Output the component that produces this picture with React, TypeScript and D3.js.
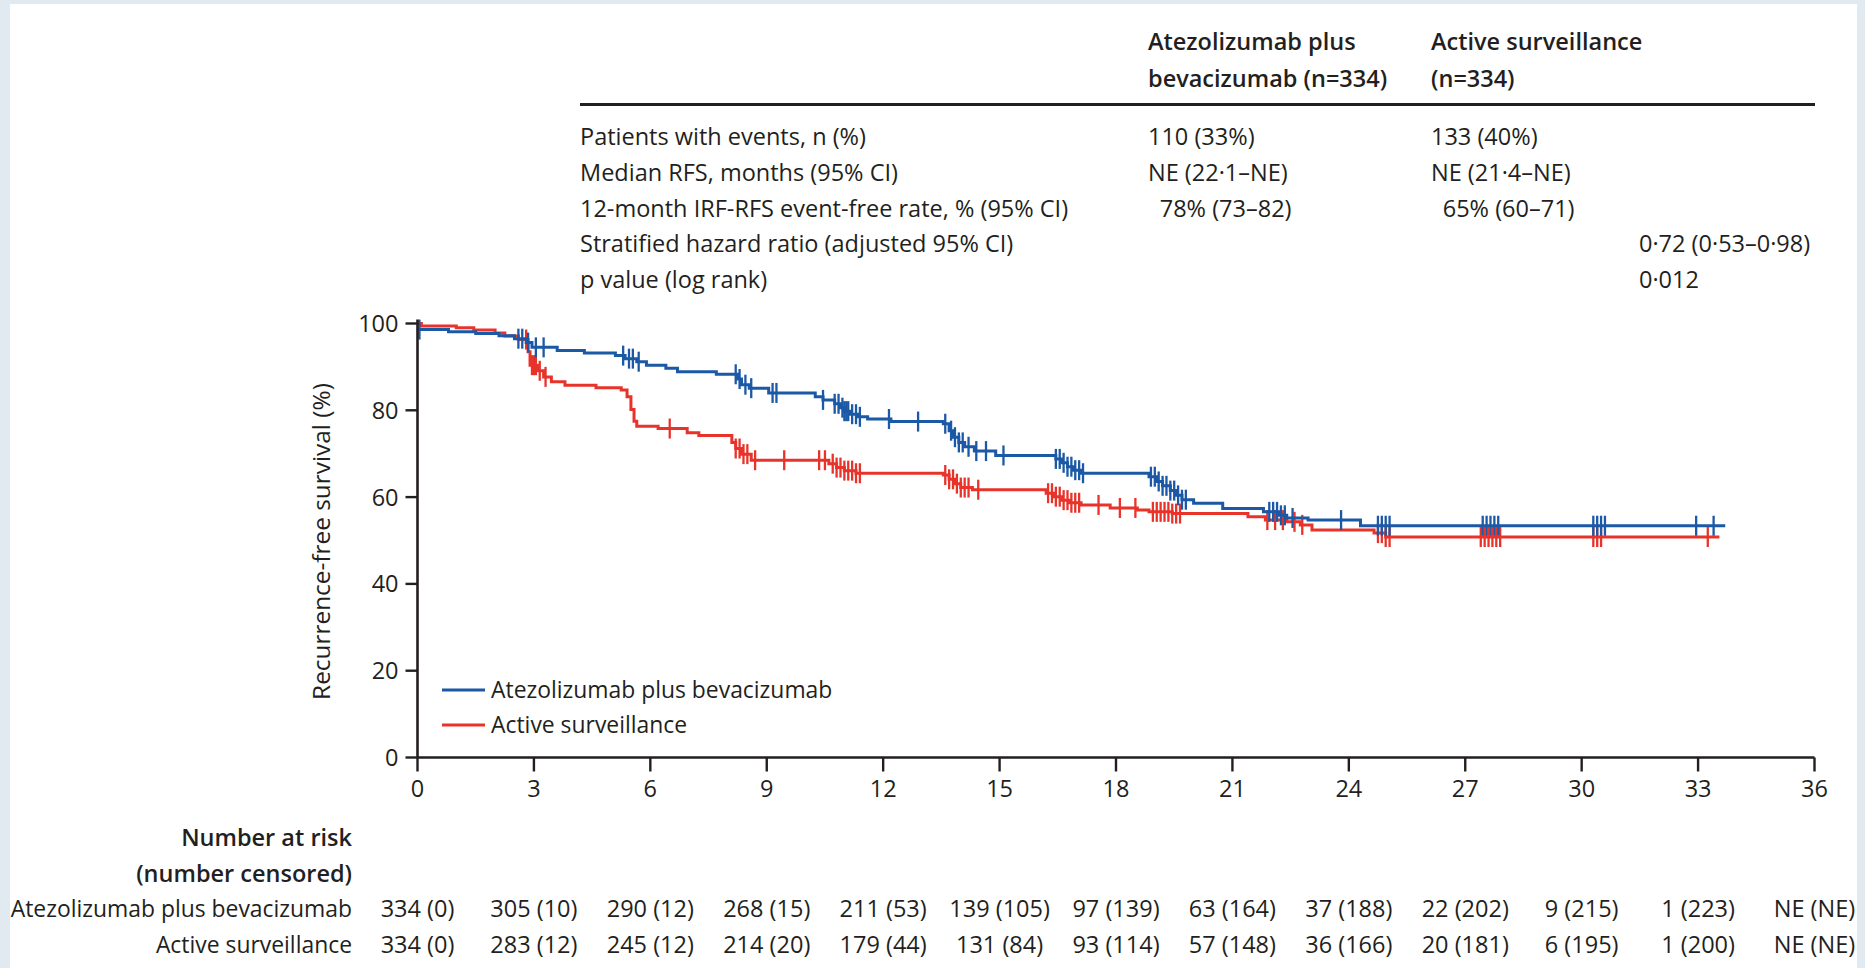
import React from "react";
import * as d3 from "d3";

// ---- data -------------------------------------------------------------
const MONTH_TICKS = [0, 3, 6, 9, 12, 15, 18, 21, 24, 27, 30, 33, 36];
const PCT_TICKS = [0, 20, 40, 60, 80, 100];

const SERIES_NAMES = ["Atezolizumab plus bevacizumab", "Active surveillance"];

// Kaplan–Meier steps: [month, survival % after that month]
const atezoSteps: [number, number][] = [
  [0, 98.6], [0.8, 98.1], [1.5, 97.7], [2.1, 97.2], [2.5, 96.5], [2.8, 95.6], [2.95, 94.5],
  [3.6, 93.8], [4.3, 93.2], [5.1, 92.6], [5.35, 91.9], [5.65, 91.2], [5.9, 90.4], [6.4, 89.7],
  [6.7, 88.9], [7.7, 88.3], [8.25, 87.2], [8.35, 85.9], [8.55, 85.1], [9.05, 84.0], [10.25, 83.1],
  [10.45, 82.4], [10.75, 81.5], [10.9, 80.6], [11.0, 79.8], [11.15, 79.1], [11.35, 78.5],
  [11.6, 78.0], [12.2, 77.4], [13.55, 76.9], [13.7, 75.3], [13.8, 73.8], [13.95, 72.6],
  [14.1, 71.6], [14.35, 70.6], [14.9, 69.6], [16.45, 68.8], [16.6, 67.9], [16.75, 67.0],
  [16.9, 66.2], [17.1, 65.5], [18.85, 64.7], [19.05, 63.6], [19.2, 62.6], [19.4, 61.5],
  [19.55, 60.4], [19.7, 59.4], [20.0, 58.6], [20.75, 57.4], [21.8, 56.6], [22.2, 55.8],
  [22.4, 55.2], [22.95, 54.7], [24.3, 53.4],
];
const atezoEnd = 33.7;
const atezoCensored = [
  0.05, 2.6, 2.7, 2.85, 3.05, 3.25, 5.3, 5.45, 5.55, 5.7, 8.2, 8.3, 8.45, 8.6, 9.15, 9.25,
  10.45, 10.75, 10.85, 10.95, 11.0, 11.05, 11.1, 11.2, 11.3, 11.4, 12.15, 12.9, 13.6, 13.75,
  13.85, 13.95, 14.05, 14.2, 14.4, 14.65, 15.1, 16.45, 16.55, 16.65, 16.75, 16.85, 16.95,
  17.05, 17.15, 18.9, 19.0, 19.1, 19.2, 19.3, 19.4, 19.5, 19.6, 19.7, 19.8, 21.95, 22.05,
  22.15, 22.25, 22.35, 22.55, 23.8, 24.75, 24.85, 24.95, 25.05, 27.45, 27.55, 27.65, 27.75,
  27.85, 30.3, 30.4, 30.5, 30.6, 32.95, 33.4,
];

const survSteps: [number, number][] = [
  [0, 100], [0.1, 99.4], [1.0, 99.0], [1.45, 98.5], [2.0, 97.8], [2.25, 97.1], [2.6, 96.3],
  [2.85, 93.5], [2.9, 90.4], [3.1, 89.1], [3.25, 87.7], [3.45, 86.6], [3.8, 85.8], [4.6, 85.2],
  [5.25, 84.7], [5.4, 83.1], [5.5, 80.2], [5.58, 77.5], [5.65, 76.3], [6.2, 75.8], [6.95, 74.8],
  [7.25, 74.2], [8.1, 72.6], [8.2, 71.2], [8.35, 69.9], [8.6, 68.5], [10.6, 67.7], [10.8, 66.8],
  [11.0, 66.1], [11.3, 65.5], [13.55, 65.1], [13.7, 64.1], [13.85, 63.1], [14.0, 62.2],
  [14.3, 61.7], [16.2, 60.9], [16.4, 60.1], [16.6, 59.3], [16.8, 58.7], [17.1, 58.2],
  [17.85, 57.5], [18.55, 57.0], [18.85, 56.6], [19.45, 56.2], [21.4, 55.5], [21.85, 54.7],
  [22.4, 54.3], [22.75, 53.6], [23.05, 52.4], [24.65, 51.7], [24.95, 50.8],
];
const survEnd = 33.55;
const survCensored = [
  2.8, 2.95, 3.0, 3.05, 3.15, 3.3, 6.5, 8.2, 8.3, 8.4, 8.5, 8.7, 9.45, 10.35, 10.5, 10.7,
  10.8, 10.9, 11.0, 11.1, 11.2, 11.3, 11.4, 13.6, 13.7, 13.8, 13.9, 14.0, 14.1, 14.2, 14.45,
  16.25, 16.35, 16.45, 16.55, 16.65, 16.75, 16.85, 16.95, 17.05, 17.55, 18.1, 18.5, 18.95,
  19.05, 19.15, 19.25, 19.35, 19.45, 19.55, 19.65, 21.9, 22.1, 22.3, 22.6, 22.8, 24.75, 24.85,
  24.95, 25.05, 27.4, 27.5, 27.6, 27.7, 27.8, 27.9, 30.3, 30.4, 30.5, 33.25,
];

// Summary table
const SUMMARY_HEADERS = [
  ["Atezolizumab plus", "bevacizumab (n=334)"],
  ["Active surveillance", "(n=334)"],
];
const SUMMARY_LABELS = [
  "Patients with events, n (%)",
  "Median RFS, months (95% CI)",
  "12-month IRF-RFS event-free rate, % (95% CI)",
  "Stratified hazard ratio (adjusted 95% CI)",
  "p value (log rank)",
];
const SUMMARY_ATEZO = ["110 (33%)", "NE (22·1–NE)", "\u200278% (73–82)", "", ""];
const SUMMARY_SURV = ["133 (40%)", "NE (21·4–NE)", "\u200265% (60–71)", "", ""];
const SUMMARY_OVERALL = ["", "", "", "0·72 (0·53–0·98)", "0·012"];

// Number at risk (number censored)
const atRiskAtezo = [
  "334 (0)", "305 (10)", "290 (12)", "268 (15)", "211 (53)", "139 (105)", "97 (139)",
  "63 (164)", "37 (188)", "22 (202)", "9 (215)", "1 (223)", "NE (NE)",
];
const atRiskSurv = [
  "334 (0)", "283 (12)", "245 (12)", "214 (20)", "179 (44)", "131 (84)", "93 (114)",
  "57 (148)", "36 (166)", "20 (181)", "6 (195)", "1 (200)", "NE (NE)",
];

// ---- styling ------------------------------------------------------------
const W = 1865;
const H = 968;
const FONT = "'Open Sans', 'DejaVu Sans', sans-serif";
const INK = "#231f20";
const BLUE = "#1b58a5";
const RED = "#e8332b";
const FS = 23.5;
const FS_SERIES = 22.9;

const x = d3.scaleLinear().domain([0, 36]).range([417.5, 1814.5]);
const y = d3.scaleLinear().domain([0, 100]).range([757.5, 323.5]);

const stepLine = d3
  .line<[number, number]>()
  .x((d) => x(d[0]))
  .y((d) => y(d[1]))
  .curve(d3.curveStepAfter);

function survivalAt(steps: [number, number][], t: number) {
  let s = steps[0][1];
  for (const [tt, v] of steps) {
    if (tt <= t) s = v;
    else break;
  }
  return s;
}

function Curve({ steps, end, censored, color }: {
  steps: [number, number][]; end: number; censored: number[]; color: string;
}) {
  const pts: [number, number][] = [...steps, [end, steps[steps.length - 1][1]]];
  return (
    <g>
      <path d={stepLine(pts) || ""} fill="none" stroke={color} strokeWidth={3} />
      {censored.map((t, i) => {
        const cy = y(survivalAt(steps, t));
        return (
          <line key={i} x1={x(t)} x2={x(t)} y1={cy - 10} y2={cy + 10} stroke={color} strokeWidth={2.3} />
        );
      })}
    </g>
  );
}

export default function App() {
  const rowY = (i: number) => 145 + i * 35.8;
  const colLabel = 580;
  const colA = 1148;
  const colB = 1431;
  const colC = 1639;
  const riskY = [846, 882, 917, 953];
  return (
    <svg
      width={W}
      height={H}
      viewBox={`0 0 ${W} ${H}`}
      style={{ position: "absolute", left: 0, top: 0, display: "block" }}
      fontFamily={FONT}
    >
      <defs>
        <clipPath id="panel-clip">
          <rect x={10} y={4} width={1847} height={H - 4} />
        </clipPath>
      </defs>
      <rect x={0} y={0} width={W} height={H} fill="#e2eaf1" />
      <rect x={10} y={4} width={1847} height={H - 4} fill="#ffffff" />

      <g clipPath="url(#panel-clip)" fill={INK} fontSize={FS}>
        {/* summary table */}
        {SUMMARY_HEADERS.map((lines, c) =>
          lines.map((txt, l) => (
            <text key={`h${c}${l}`} x={c === 0 ? colA : colB} y={50 + l * 37} fontWeight={600}>
              {txt}
            </text>
          ))
        )}
        <line x1={colLabel} x2={1815} y1={104.5} y2={104.5} stroke={INK} strokeWidth={3} />
        {SUMMARY_LABELS.map((txt, i) => (
          <g key={`r${i}`}>
            <text x={colLabel} y={rowY(i)}>{txt}</text>
            {SUMMARY_ATEZO[i] && <text x={colA} y={rowY(i)} xmlSpace="preserve">{SUMMARY_ATEZO[i]}</text>}
            {SUMMARY_SURV[i] && <text x={colB} y={rowY(i)} xmlSpace="preserve">{SUMMARY_SURV[i]}</text>}
            {SUMMARY_OVERALL[i] && <text x={colC} y={rowY(i)}>{SUMMARY_OVERALL[i]}</text>}
          </g>
        ))}

        {/* curves */}
        <Curve steps={survSteps} end={survEnd} censored={survCensored} color={RED} />
        <Curve steps={atezoSteps} end={atezoEnd} censored={atezoCensored} color={BLUE} />

        {/* axes */}
        <line x1={x(0)} x2={x(0)} y1={y(100) - 4} y2={y(0)} stroke={INK} strokeWidth={2.6} />
        <line x1={x(0)} x2={x(36)} y1={y(0)} y2={y(0)} stroke={INK} strokeWidth={2.6} />
        {PCT_TICKS.map((v) => (
          <g key={`yt${v}`}>
            <line x1={x(0) - 12} x2={x(0)} y1={y(v)} y2={y(v)} stroke={INK} strokeWidth={2.4} />
            <text x={x(0) - 19} y={y(v) + 8.5} textAnchor="end">{v}</text>
          </g>
        ))}
        {MONTH_TICKS.map((m) => (
          <g key={`xt${m}`}>
            <line x1={x(m)} x2={x(m)} y1={y(0)} y2={y(0) + 14} stroke={INK} strokeWidth={2.4} />
            <text x={x(m)} y={797} textAnchor="middle">{m}</text>
          </g>
        ))}
        <text
          transform={`translate(330, ${(y(0) + y(100)) / 2 + 1}) rotate(-90)`}
          textAnchor="middle"
          fontSize={24.4}
        >
          Recurrence-free survival (%)
        </text>

        {/* legend */}
        {SERIES_NAMES.map((name, i) => (
          <g key={`lg${i}`}>
            <line x1={442} x2={485} y1={690 + i * 35} y2={690 + i * 35} stroke={i === 0 ? BLUE : RED} strokeWidth={2.8} />
            <text x={491} y={698 + i * 35} fontSize={FS_SERIES}>{name}</text>
          </g>
        ))}

        {/* number at risk */}
        <text x={352} y={riskY[0]} textAnchor="end" fontWeight={600}>Number at risk</text>
        <text x={352} y={riskY[1]} textAnchor="end" fontWeight={600}>(number censored)</text>
        <text x={352} y={riskY[2]} textAnchor="end" fontSize={FS_SERIES}>{SERIES_NAMES[0]}</text>
        <text x={352} y={riskY[3]} textAnchor="end" fontSize={FS_SERIES}>{SERIES_NAMES[1]}</text>
        {MONTH_TICKS.map((m, i) => (
          <g key={`ar${m}`}>
            <text x={x(m)} y={riskY[2]} textAnchor="middle">{atRiskAtezo[i]}</text>
            <text x={x(m)} y={riskY[3]} textAnchor="middle">{atRiskSurv[i]}</text>
          </g>
        ))}
      </g>
    </svg>
  );
}
